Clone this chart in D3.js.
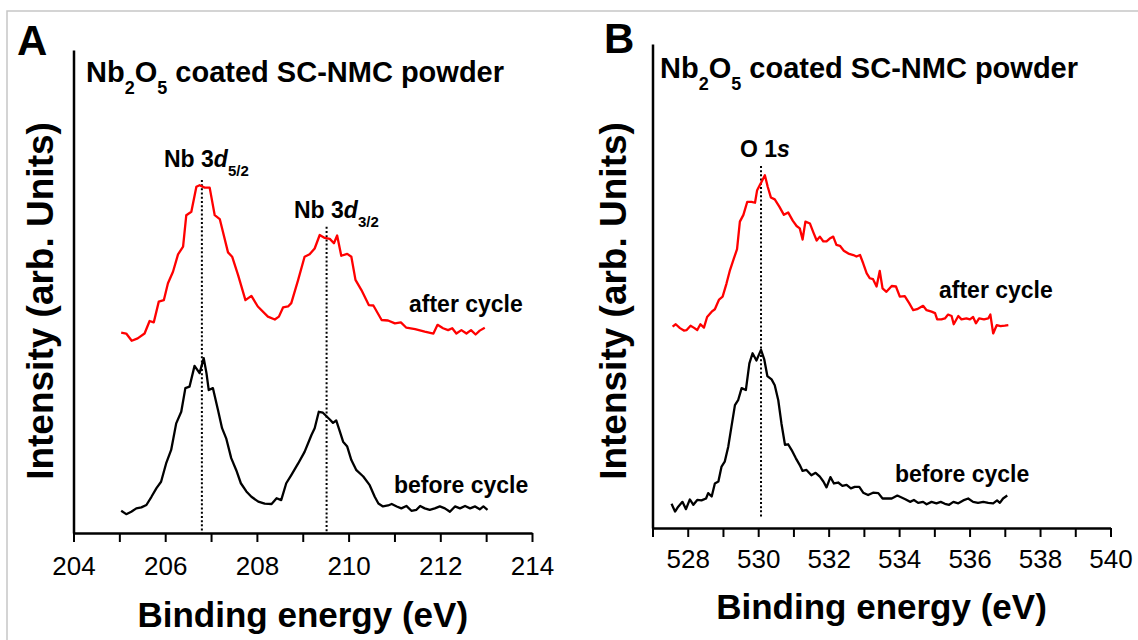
<!DOCTYPE html>
<html>
<head>
<meta charset="utf-8">
<script src="https://cdn.jsdelivr.net/npm/d3@7"></script>
<style>
  html, body { margin: 0; padding: 0; background: #fff; }
  svg { display: block; }
</style>
</head>
<body>
<svg id="chart" width="1138" height="640"></svg>
<script>
// ---------- Nb 3d region: [binding energy (eV), intensity (arb. units)] ----------
const nbAfter = [
  [205.04,41.5],[205.15,41.3],[205.27,39.8],[205.40,40.3],[205.55,41.3],[205.66,43.9],[205.75,43.6],
  [205.86,47.9],[205.97,48.2],[206.06,51.7],[206.17,54.1],[206.28,57.7],[206.39,59.3],[206.46,65.8],
  [206.57,66.5],[206.68,71.7],[206.75,72.0],[206.86,71.5],[206.97,71.5],[207.08,65.8],[207.19,65.0],
  [207.37,58.1],[207.46,57.2],[207.59,53.4],[207.75,48.2],[207.88,49.1],[208.02,46.9],[208.24,44.8],
  [208.39,44.2],[208.48,44.8],[208.57,46.7],[208.68,46.9],[208.75,47.6],[208.90,52.4],[209.04,57.2],
  [209.15,57.7],[209.26,58.9],[209.37,61.7],[209.48,61.1],[209.59,60.9],[209.68,60.0],[209.75,61.6],
  [209.84,57.4],[209.97,57.8],[210.06,57.2],[210.15,52.4],[210.28,50.3],[210.44,47.2],[210.54,47.1],
  [210.72,44.1],[210.86,44.0],[211.01,43.4],[211.14,43.6],[211.26,42.5],[211.45,42.2],[211.66,41.7],
  [211.85,41.3],[211.94,43.1],[212.06,42.4],[212.17,42.0],[212.26,42.4],[212.35,41.3],[212.46,42.0],
  [212.57,41.3],[212.67,42.0],[212.77,41.1],[212.86,41.9],[212.97,42.5]
];
const nbBefore = [
  [205.04,4.6],[205.15,3.9],[205.26,4.4],[205.37,5.1],[205.48,5.3],[205.59,5.8],[205.70,7.5],
  [205.81,9.3],[205.91,10.6],[206.02,14.4],[206.13,17.2],[206.24,22.7],[206.35,25.1],[206.44,30.0],
  [206.53,30.3],[206.64,34.6],[206.75,33.1],[206.84,36.2],[206.90,33.1],[206.95,29.6],[207.04,30.0],
  [207.15,25.5],[207.24,21.7],[207.33,19.6],[207.44,15.5],[207.55,13.0],[207.65,10.3],[207.77,8.6],
  [207.88,7.5],[208.03,6.5],[208.17,6.1],[208.32,6.0],[208.43,7.2],[208.53,6.8],[208.64,10.3],
  [208.75,12.0],[208.90,14.4],[209.04,16.8],[209.19,20.3],[209.26,21.7],[209.35,25.1],[209.44,24.9],
  [209.59,23.5],[209.66,22.8],[209.73,23.3],[209.81,21.0],[209.88,18.9],[209.97,17.9],[210.06,15.1],
  [210.17,13.0],[210.32,11.7],[210.46,9.9],[210.57,7.5],[210.65,6.1],[210.75,5.5],[210.86,5.7],
  [210.94,6.0],[211.05,5.5],[211.15,5.1],[211.26,5.6],[211.37,4.6],[211.48,4.8],[211.56,5.6],
  [211.66,5.1],[211.77,4.8],[211.88,5.1],[211.99,5.5],[212.10,5.1],[212.21,4.4],[212.32,5.5],
  [212.43,5.1],[212.54,5.6],[212.65,5.1],[212.76,5.5],[212.86,4.9],[212.94,5.5],[213.03,4.8]
];

// ---------- O 1s region ----------
const oAfter = [
  [527.57,41.6],[527.66,42.1],[527.78,41.3],[527.89,40.8],[527.97,40.9],[528.08,41.8],[528.17,41.4],
  [528.27,40.9],[528.36,42.1],[528.46,41.4],[528.55,43.6],[528.68,44.7],[528.77,45.2],[528.89,47.2],
  [528.99,47.8],[529.10,50.5],[529.20,53.3],[529.31,55.7],[529.40,57.6],[529.48,63.3],[529.58,64.7],
  [529.69,67.4],[529.81,67.4],[529.91,67.2],[529.97,69.8],[530.05,70.9],[530.10,71.6],[530.19,72.9],
  [530.27,70.5],[530.36,68.3],[530.47,67.9],[530.60,66.4],[530.73,64.7],[530.85,65.2],[530.98,63.5],
  [531.09,62.4],[531.18,61.9],[531.26,59.6],[531.34,63.3],[531.47,62.9],[531.56,61.2],[531.66,59.4],
  [531.75,60.2],[531.85,59.2],[531.94,59.2],[532.03,59.8],[532.13,60.2],[532.22,58.5],[532.32,58.3],
  [532.43,57.3],[532.56,56.7],[532.70,56.4],[532.79,56.1],[532.89,56.4],[532.98,54.7],[533.08,52.6],
  [533.17,51.6],[533.26,51.4],[533.36,49.9],[533.45,53.1],[533.53,49.5],[533.64,48.8],[533.79,50.0],
  [533.91,49.9],[534.02,47.8],[534.16,47.9],[534.29,46.4],[534.40,45.0],[534.51,45.2],[534.68,45.9],
  [534.78,45.0],[534.92,44.7],[535.02,44.4],[535.08,43.1],[535.20,43.1],[535.30,43.3],[535.39,44.1],
  [535.49,43.8],[535.55,42.1],[535.68,43.8],[535.77,43.1],[535.91,43.3],[536.01,43.1],[536.10,43.6],
  [536.18,42.3],[536.27,43.3],[536.41,43.1],[536.53,43.3],[536.59,44.1],[536.67,40.2],[536.77,41.9],
  [536.88,41.7],[537.00,41.8],[537.10,41.9]
];
const oBefore = [
  [527.54,5.0],[527.64,3.4],[527.73,4.4],[527.85,5.4],[527.95,3.9],[528.06,5.9],[528.16,4.8],
  [528.27,5.8],[528.39,5.7],[528.52,6.1],[528.58,7.2],[528.68,6.5],[528.77,9.2],[528.87,9.6],
  [528.96,12.7],[529.05,13.7],[529.15,16.8],[529.24,20.9],[529.34,25.4],[529.43,26.4],[529.53,28.9],
  [529.65,28.5],[529.75,34.0],[529.84,36.1],[529.95,34.6],[530.08,36.8],[530.17,34.9],[530.26,31.4],
  [530.38,30.7],[530.47,29.5],[530.57,26.4],[530.66,21.6],[530.76,17.2],[530.85,17.3],[530.95,16.1],
  [531.07,14.4],[531.18,13.0],[531.26,11.8],[531.37,12.0],[531.51,10.9],[531.63,11.4],[531.75,10.6],
  [531.85,9.6],[531.94,8.4],[532.05,10.5],[532.15,9.2],[532.27,9.4],[532.39,8.7],[532.51,8.9],
  [532.63,8.2],[532.74,8.5],[532.87,8.5],[532.98,7.3],[533.12,6.8],[533.26,7.3],[533.41,7.2],
  [533.53,6.1],[533.66,6.1],[533.79,6.1],[533.95,6.7],[534.07,6.3],[534.19,5.9],[534.31,5.4],
  [534.42,5.8],[534.54,5.2],[534.68,5.4],[534.78,4.9],[534.92,5.4],[535.06,5.1],[535.18,5.4],
  [535.30,5.0],[535.42,4.8],[535.54,5.4],[535.68,5.1],[535.82,5.7],[535.96,6.1],[536.10,5.4],
  [536.24,5.2],[536.39,5.4],[536.53,5.2],[536.67,5.1],[536.78,5.7],[536.86,5.2],[536.95,6.1],
  [537.07,6.7]
];

// ---------- axis ticks ----------
const nbTicks  = [204,205,206,207,208,209,210,211,212,213,214];
const nbLabels = [204,206,208,210,212,214];
const oTicks   = [527,528,529,530,531,532,533,534,535,536,537,538,539,540];
const oLabels  = [528,530,532,534,536,538,540];

// peak markers: [energy, top intensity of the dotted guide, bottom intensity]
const nbPeaks = [[206.8, 73.1, 0], [209.52, 63.4, 0]];
const oPeaks  = [[530.08, 74.8, 2.1]];

const FONT = "'Liberation Sans', Arial, Helvetica, sans-serif";
const RED = "#ff0000";
const svg = d3.select("#chart");

// light border of the figure
svg.append("path")
  .attr("d", "M7,640 V11 H1138")
  .attr("fill", "none").attr("stroke", "#c6c6c6").attr("stroke-width", 1.5);

// text with optional subscript / italic runs
function rich(g, x, y, parts, size, subSize, subShift, anchor) {
  const t = g.append("text")
    .attr("x", x).attr("y", y)
    .attr("font-family", FONT).attr("font-weight", "bold")
    .attr("font-size", size).attr("fill", "#000")
    .attr("text-anchor", anchor || "start");
  let shifted = 0;
  parts.forEach(p => {
    const s = t.append("tspan").text(p.t);
    const want = p.sub ? subShift : 0;
    if (want !== shifted) { s.attr("dy", want - shifted); shifted = want; }
    if (p.sub) s.attr("font-size", subSize);
    if (p.it) s.attr("font-style", "italic");
  });
  return t;
}

function panel(cfg) {
  const g = svg.append("g");
  const x = d3.scaleLinear().domain(cfg.xDomain).range([cfg.left, cfg.right]);
  const y = d3.scaleLinear().domain([0, 100]).range([cfg.bottom, cfg.top]);

  // x axis with a tick at every eV, numbers on even values
  const xa = g.append("g")
    .attr("transform", `translate(0,${cfg.bottom})`)
    .call(d3.axisBottom(x).tickValues(cfg.ticks).tickSize(9).tickSizeOuter(0)
      .tickFormat(d => cfg.labels.includes(d) ? String(d) : ""));
  xa.attr("font-family", FONT).attr("font-size", 26);
  xa.select(".domain").attr("stroke", "#000").attr("stroke-width", 2.5);
  xa.selectAll(".tick line").attr("stroke", "#000").attr("stroke-width", 2);
  xa.selectAll(".tick text").attr("y", cfg.labelDy).attr("dy", null).attr("fill", "#000");

  // bare y axis (arbitrary units)
  const ya = g.append("g")
    .attr("transform", `translate(${cfg.left},0)`)
    .call(d3.axisLeft(y).tickValues([]).tickSizeOuter(0));
  ya.select(".domain").attr("stroke", "#000").attr("stroke-width", 2.5);

  // dotted guides through peak maxima
  g.selectAll("line.guide").data(cfg.peaks).join("line")
    .attr("class", "guide")
    .attr("x1", d => x(d[0])).attr("x2", d => x(d[0]))
    .attr("y1", d => y(d[1])).attr("y2", d => y(d[2]))
    .attr("stroke", "#000").attr("stroke-width", 2)
    .attr("stroke-dasharray", "2,2.2");

  // spectra
  const line = d3.line().x(d => x(d[0])).y(d => y(d[1]));
  g.append("path").datum(cfg.after).attr("d", line)
    .attr("fill", "none").attr("stroke", RED).attr("stroke-width", 2.3)
    .attr("stroke-linejoin", "round");
  g.append("path").datum(cfg.before).attr("d", line)
    .attr("fill", "none").attr("stroke", "#000").attr("stroke-width", 2.3)
    .attr("stroke-linejoin", "round");

  // axis titles
  g.append("text")
    .attr("x", (cfg.left + cfg.right) / 2).attr("y", cfg.xTitleY)
    .attr("text-anchor", "middle")
    .attr("font-family", FONT).attr("font-weight", "bold").attr("font-size", 35)
    .text("Binding energy (eV)");
  g.append("text")
    .attr("transform", `translate(${cfg.yTitleX},${cfg.yTitleMid}) rotate(-90)`)
    .attr("text-anchor", "middle")
    .attr("font-family", FONT).attr("font-weight", "bold").attr("font-size", 37)
    .text("Intensity (arb. Units)");

  // panel letter and heading
  g.append("text")
    .attr("x", cfg.letterX).attr("y", cfg.letterY)
    .attr("font-family", FONT).attr("font-weight", "bold").attr("font-size", 42)
    .text(cfg.letter);
  rich(g, cfg.titleX, cfg.titleY,
    [{t: "Nb"}, {t: "2", sub: true}, {t: "O"}, {t: "5", sub: true}, {t: " coated SC-NMC powder"}],
    29, 18, 12);

  // curve labels
  rich(g, cfg.afterLab[0], cfg.afterLab[1], [{t: "after cycle"}], 23);
  rich(g, cfg.beforeLab[0], cfg.beforeLab[1], [{t: "before cycle"}], 23);
  cfg.peakLabels.forEach(p => rich(g, p.x, p.y, p.parts, 23, 15, 9));
}

panel({
  letter: "A", letterX: 17, letterY: 55,
  xDomain: [204, 214], left: 73.5, right: 532, top: 50, bottom: 533,
  ticks: nbTicks, labels: nbLabels, labelDy: 42,
  after: nbAfter, before: nbBefore, peaks: nbPeaks,
  xTitleY: 627, yTitleX: 53, yTitleMid: 301,
  titleX: 86, titleY: 82,
  afterLab: [409, 312], beforeLab: [394, 493],
  peakLabels: [
    {x: 164, y: 167, parts: [{t: "Nb 3"}, {t: "d", it: true}, {t: "5/2", sub: true}]},
    {x: 294, y: 218, parts: [{t: "Nb 3"}, {t: "d", it: true}, {t: "3/2", sub: true}]}
  ]
});

panel({
  letter: "B", letterX: 604, letterY: 53,
  xDomain: [527, 540], left: 652.5, right: 1110.5, top: 44, bottom: 528,
  ticks: oTicks, labels: oLabels, labelDy: 40,
  after: oAfter, before: oBefore, peaks: oPeaks,
  xTitleY: 619, yTitleX: 626, yTitleMid: 301,
  titleX: 660, titleY: 78,
  afterLab: [939, 298], beforeLab: [895, 482],
  peakLabels: [
    {x: 740, y: 157, parts: [{t: "O 1"}, {t: "s", it: true}]}
  ]
});
</script>
</body>
</html>
